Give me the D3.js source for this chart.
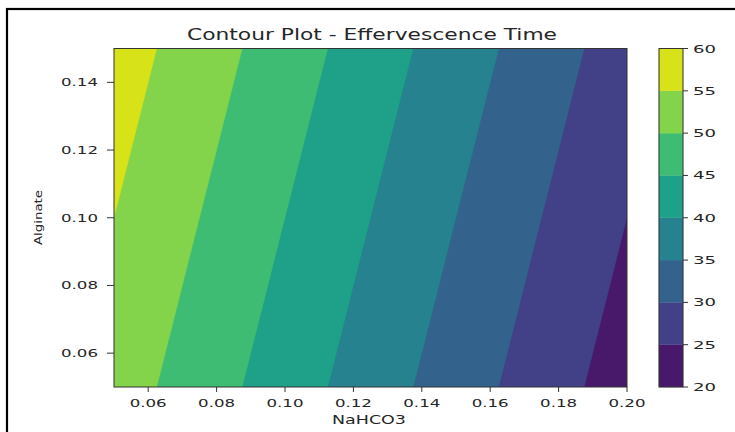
<!DOCTYPE html>
<html>
<head>
<meta charset="utf-8">
<script src="https://cdn.jsdelivr.net/npm/d3@7"></script>
<style>
  html, body { margin: 0; padding: 0; background: #fff; }
  svg { display: block; }
  text { font-family: "DejaVu Sans", sans-serif; fill: #262626; }
</style>
</head>
<body>
<svg id="chart" width="735" height="432"></svg>
<script>
// ---- data ----
const nahco3 = [0.05, 0.075, 0.10, 0.125, 0.15, 0.175, 0.20];     // x grid
const alginate = [0.05, 0.075, 0.10, 0.125, 0.15];                // y grid
// effervescence time (s) on the grid, one row per alginate value (bottom -> top)
const timeRows = [
  [52.5, 47.5, 42.5, 37.5, 32.5, 27.5, 22.5],
  [53.75, 48.75, 43.75, 38.75, 33.75, 28.75, 23.75],
  [55.0, 50.0, 45.0, 40.0, 35.0, 30.0, 25.0],
  [56.25, 51.25, 46.25, 41.25, 36.25, 31.25, 26.25],
  [57.5, 52.5, 47.5, 42.5, 37.5, 32.5, 27.5]
];
const levels = [20, 25, 30, 35, 40, 45, 50, 55, 60];
const xTicks = [0.06, 0.08, 0.10, 0.12, 0.14, 0.16, 0.18, 0.20];
const yTicks = [0.06, 0.08, 0.10, 0.12, 0.14];
const titleText = "Contour Plot - Effervescence Time";
const xLabel = "NaHCO3";
const yLabel = "Alginate";

// ---- layout ----
const svg = d3.select("#chart");
const plot = { left: 114, top: 48.5, right: 627, bottom: 387 };
const cbar = { left: 659, right: 683 };

const x = d3.scaleLinear().domain([0.05, 0.20]).range([plot.left, plot.right]);
const y = d3.scaleLinear().domain([0.05, 0.15]).range([plot.bottom, plot.top]);
const lo = levels[0], hi = levels[levels.length - 1];
const colorOf = v => d3.interpolateViridis((v - lo) / (hi - lo));

// outer frame
svg.append("rect").attr("x", 7).attr("y", 9).attr("width", 760).attr("height", 460)
  .attr("fill", "none").attr("stroke", "#000").attr("stroke-width", 2.2);

// ---- contours ----
const nx = nahco3.length, ny = alginate.length;
const values = [];
timeRows.forEach(r => r.forEach(v => values.push(v)));
const sx = nahco3[1] - nahco3[0], sy = alginate[1] - alginate[0];
const contours = d3.contours().size([nx, ny]).thresholds(levels.slice(0, -1))(values);

const proj = d3.geoTransform({
  point: function (cx, cy) {
    this.stream.point(x(nahco3[0] + (cx - 0.5) * sx), y(alginate[0] + (cy - 0.5) * sy));
  }
});
const path = d3.geoPath(proj);

svg.append("clipPath").attr("id", "clipPlot")
  .append("rect").attr("x", plot.left).attr("y", plot.top)
  .attr("width", plot.right - plot.left).attr("height", plot.bottom - plot.top);

svg.append("g").attr("clip-path", "url(#clipPlot)")
  .selectAll("path").data(contours).join("path")
  .attr("d", path)
  .attr("fill", d => colorOf(d.value + 2.5))
  .attr("stroke", d => colorOf(d.value + 2.5))
  .attr("stroke-width", 0.3);

svg.append("rect").attr("x", plot.left).attr("y", plot.top)
  .attr("width", plot.right - plot.left).attr("height", plot.bottom - plot.top)
  .attr("fill", "none").attr("stroke", "#333").attr("stroke-width", 1);

// ---- helpers ----
function fit(sel, w) {
  sel.attr("textLength", w).attr("lengthAdjust", "spacingAndGlyphs");
  return sel;
}

// ---- axes ----
const gx = svg.append("g");
xTicks.forEach(t => {
  gx.append("line").attr("x1", x(t)).attr("x2", x(t))
    .attr("y1", plot.bottom).attr("y2", plot.bottom + 5).attr("stroke", "#333");
  fit(gx.append("text").attr("x", x(t)).attr("y", 406.5)
    .attr("text-anchor", "middle").attr("font-size", 11).text(t.toFixed(2)), 37);
});
const gy = svg.append("g");
yTicks.forEach(t => {
  gy.append("line").attr("x1", plot.left - 7).attr("x2", plot.left)
    .attr("y1", y(t)).attr("y2", y(t)).attr("stroke", "#333");
  fit(gy.append("text").attr("x", 98).attr("y", y(t) + 4)
    .attr("text-anchor", "end").attr("font-size", 11).text(t.toFixed(2)), 37);
});

fit(svg.append("text").attr("x", 369).attr("y", 423.5).attr("text-anchor", "middle")
  .attr("font-size", 11.5).text(xLabel), 74);
fit(svg.append("text").attr("transform", "translate(41.5,217.5) rotate(-90)")
  .attr("text-anchor", "middle").attr("font-size", 10.5).attr("fill", "#262626")
  .text(yLabel), 55);
fit(svg.append("text").attr("x", 372).attr("y", 40).attr("text-anchor", "middle")
  .attr("font-size", 16).text(titleText), 370);

// ---- colour bar ----
const cy = d3.scaleLinear().domain([lo, hi]).range([plot.bottom, plot.top]);
const bands = d3.pairs(levels);
svg.append("g").selectAll("rect").data(bands).join("rect")
  .attr("x", cbar.left).attr("width", cbar.right - cbar.left)
  .attr("y", d => cy(d[1])).attr("height", d => cy(d[0]) - cy(d[1]))
  .attr("fill", d => colorOf((d[0] + d[1]) / 2))
  .attr("stroke", d => colorOf((d[0] + d[1]) / 2)).attr("stroke-width", 0.3);
svg.append("rect").attr("x", cbar.left).attr("y", plot.top)
  .attr("width", cbar.right - cbar.left).attr("height", plot.bottom - plot.top)
  .attr("fill", "none").attr("stroke", "#333").attr("stroke-width", 1);
const gc = svg.append("g");
levels.forEach(l => {
  gc.append("line").attr("x1", cbar.right).attr("x2", cbar.right + 5)
    .attr("y1", cy(l)).attr("y2", cy(l)).attr("stroke", "#333");
  fit(gc.append("text").attr("x", 693).attr("y", cy(l) + 4)
    .attr("font-size", 11).text(l), 23);
});
</script>
</body>
</html>
